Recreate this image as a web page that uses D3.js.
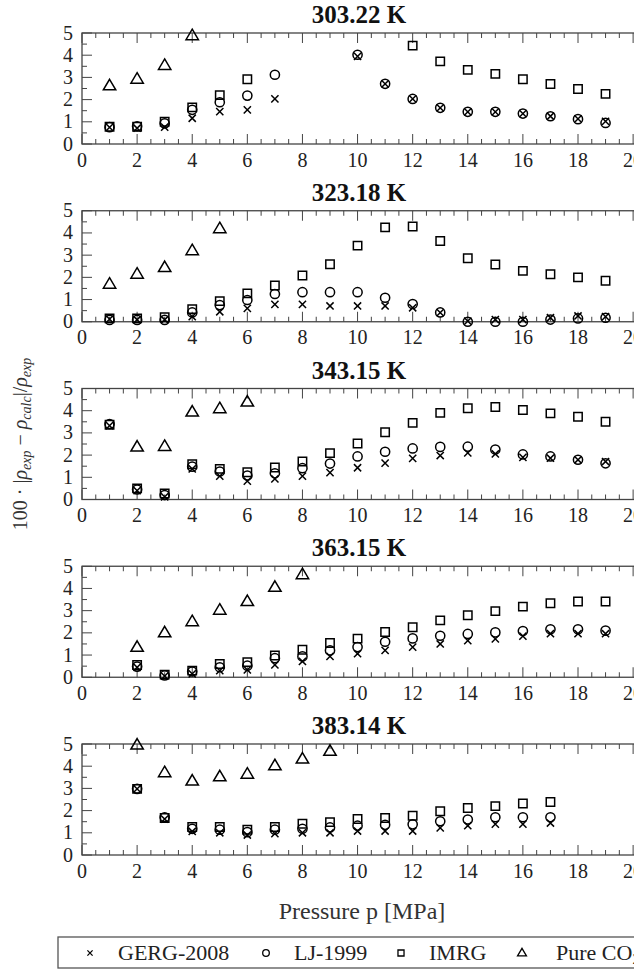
<!DOCTYPE html>
<html><head><meta charset="utf-8">
<script src="https://cdn.jsdelivr.net/npm/d3@7"></script>
<style>body{margin:0;background:#fff}svg{display:block}
text{font-family:"Liberation Serif","Times New Roman",Times,"Nimbus Roman","DejaVu Serif",serif;}</style>
</head><body>
<svg id="c" width="634" height="970"></svg>
<script>
// ---- data ----
const pressure = [1,2,3,4,5,6,7,8,9,10,11,12,13,14,15,16,17,18,19];
const temperatures = ["303.22 K","323.18 K","343.15 K","363.15 K","383.14 K"];
const seriesNames = ["GERG-2008","LJ-1999","IMRG","Pure CO₂"];
const xTicks = [0,2,4,6,8,10,12,14,16,18,20];
const yTicks = [0,1,2,3,4,5];
const _ = null;

const gerg303 = [0.75,0.71,0.76,1.16,1.46,1.54,2.03,_,_,3.95,2.71,2.03,1.63,1.45,1.45,1.37,1.25,1.13,1.02];
const lj303   = [0.76,0.80,0.93,1.54,1.88,2.18,3.12,_,_,4.02,2.71,2.03,1.63,1.45,1.45,1.37,1.25,1.12,0.95];
const imrg303 = [0.78,0.78,1.00,1.65,2.20,2.92,_,_,_,_,_,4.43,3.72,3.34,3.16,2.92,2.70,2.48,2.26];
const pure303 = [2.62,2.92,3.54,4.88,_,_,_,_,_,_,_,_,_,_,_,_,_,_,_];

const gerg323 = [0.12,0.09,0.09,0.23,0.45,0.60,0.78,0.78,0.71,0.71,0.71,0.63,0.41,0.03,0.10,0.10,0.18,0.26,0.23];
const lj323   = [0.08,0.08,0.08,0.42,0.75,0.98,1.25,1.33,1.33,1.33,1.08,0.80,0.42,0.00,0.00,0.00,0.10,0.15,0.18];
const imrg323 = [0.15,0.15,0.20,0.57,0.93,1.28,1.63,2.08,2.59,3.43,4.25,4.29,3.64,2.86,2.58,2.29,2.14,2.00,1.85];
const pure323 = [1.69,2.14,2.44,3.20,4.19,_,_,_,_,_,_,_,_,_,_,_,_,_,_];

const gerg343 = [3.33,0.40,0.12,1.38,1.05,0.83,0.93,1.05,1.21,1.43,1.64,1.85,1.98,2.10,2.05,1.90,1.86,1.79,1.71];
const lj343   = [3.40,0.45,0.20,1.48,1.26,1.08,1.18,1.41,1.62,1.94,2.15,2.30,2.37,2.38,2.25,2.03,1.94,1.79,1.63];
const imrg343 = [3.37,0.50,0.27,1.59,1.38,1.23,1.44,1.71,2.09,2.52,3.03,3.45,3.90,4.11,4.17,4.03,3.88,3.73,3.50];
const pure343 = [_,2.36,2.39,3.94,4.09,4.39,_,_,_,_,_,_,_,_,_,_,_,_,_];

const gerg363 = [_,0.45,0.05,0.15,0.30,0.33,0.56,0.71,0.94,1.06,1.21,1.36,1.50,1.65,1.73,1.85,1.96,1.96,1.96];
const lj363   = [_,0.48,0.08,0.26,0.45,0.52,0.86,0.94,1.21,1.36,1.60,1.75,1.87,1.95,2.02,2.08,2.16,2.16,2.10];
const imrg363 = [_,0.55,0.12,0.30,0.60,0.68,0.98,1.24,1.54,1.74,2.04,2.25,2.56,2.79,2.98,3.18,3.33,3.41,3.41];
const pure363 = [_,1.35,2.00,2.50,3.02,3.41,4.05,4.62,_,_,_,_,_,_,_,_,_,_,_];

const gerg383 = [_,2.98,1.62,1.06,1.00,0.90,0.96,1.00,1.00,1.08,1.08,1.08,1.22,1.32,1.39,1.39,1.44,_,_];
const lj383   = [_,2.98,1.70,1.18,1.14,1.03,1.14,1.18,1.24,1.32,1.36,1.38,1.52,1.60,1.70,1.70,1.70,_,_];
const imrg383 = [_,2.98,1.67,1.26,1.26,1.14,1.26,1.41,1.48,1.62,1.67,1.77,1.97,2.12,2.20,2.32,2.39,_,_];
const pure383 = [_,4.95,3.71,3.33,3.52,3.64,4.02,4.32,4.67,_,_,_,_,_,_,_,_,_,_];

const panels = [
  [gerg303, lj303, imrg303, pure303],
  [gerg323, lj323, imrg323, pure323],
  [gerg343, lj343, imrg343, pure343],
  [gerg363, lj363, imrg363, pure363],
  [gerg383, lj383, imrg383, pure383]
];

// ---- layout ----
const svg = d3.select("#c");
const left = 82, right = 640;
const x = d3.scaleLinear().domain([0, 20.25]).range([left, right]);
const axisColor = "#444";

function symbolPath(kind, s) {
  if (kind === 0) { const a = 3.6*s; return `M${-a},${-a}L${a},${a}M${-a},${a}L${a},${-a}`; }
  if (kind === 1) { const r = 4.6*s; return `M${r},0A${r},${r} 0 1,1 ${-r},0A${r},${r} 0 1,1 ${r},0Z`; }
  if (kind === 2) { const a = 4.2*s; return `M${-a},${-a}H${a}V${a}H${-a}Z`; }
  const w = 6.2*s, h = 10.5*s; return `M0,${-h*0.62}L${w},${h*0.38}L${-w},${h*0.38}Z`;
}

panels.forEach((series, i) => {
  const bottom = 144 + i*177.75, top = bottom - 111;
  const y = d3.scaleLinear().domain([0,5]).range([bottom, top]);
  const g = svg.append("g");

  g.append("text").attr("x", 359).attr("y", top - 10).attr("text-anchor","middle")
    .attr("font-weight","bold").attr("font-size", 25)
    .attr("fill","#111").text(temperatures[i]);

  g.append("rect").attr("x", left).attr("y", top).attr("width", right-left).attr("height", bottom-top)
    .attr("fill","none").attr("stroke", axisColor).attr("stroke-width", 1.3);

  const xMinor = d3.range(0, 20.01, 0.5);
  xMinor.forEach(v => {
    const major = Math.abs(v/2 - Math.round(v/2)) < 1e-6;
    const len = major ? 10 : 5;
    g.append("line").attr("x1", x(v)).attr("x2", x(v)).attr("y1", bottom).attr("y2", bottom-len)
      .attr("stroke", axisColor).attr("stroke-width", 1);
    g.append("line").attr("x1", x(v)).attr("x2", x(v)).attr("y1", top).attr("y2", top+len)
      .attr("stroke", axisColor).attr("stroke-width", 1);
  });
  d3.range(0, 5.01, 0.5).forEach(v => {
    const major = Math.abs(v - Math.round(v)) < 1e-6;
    const len = major ? 10 : 5;
    g.append("line").attr("x1", left).attr("x2", left+len).attr("y1", y(v)).attr("y2", y(v))
      .attr("stroke", axisColor).attr("stroke-width", 1);
  });

  g.selectAll(".xl").data(xTicks).enter().append("text")
    .attr("x", d => x(d)).attr("y", bottom + 22.5).attr("text-anchor","middle")
    .attr("font-size", 20).attr("fill","#222").text(d => d);
  g.selectAll(".yl").data(yTicks).enter().append("text")
    .attr("x", 73).attr("y", d => y(d) + 6.5).attr("text-anchor","end")
    .attr("font-size", 20).attr("fill","#222").text(d => d);

  series.forEach((vals, k) => {
    const pts = pressure.map((p, j) => ({p, v: vals[j]})).filter(d => d.v !== null);
    g.selectAll(".m"+k).data(pts).enter().append("path")
      .attr("transform", d => `translate(${x(d.p)},${y(d.v)})`)
      .attr("d", symbolPath(k, 1))
      .attr("fill","none").attr("stroke","#000").attr("stroke-width", 1.5);
  });
});

svg.append("text").attr("x", 362).attr("y", 919).attr("text-anchor","middle")
  .attr("font-size", 24).attr("fill","#333").text("Pressure p [MPa]");

const yl = svg.append("text").attr("transform","translate(27,444) rotate(-90)")
  .attr("text-anchor","middle").attr("font-size", 20).attr("fill","#333");
yl.append("tspan").text("100 · |");
yl.append("tspan").attr("font-style","italic").text("ρ");
yl.append("tspan").attr("font-style","italic").attr("font-size",14).attr("dy",4).text("exp");
yl.append("tspan").attr("dy",-4).text(" − ");
yl.append("tspan").attr("font-style","italic").text("ρ");
yl.append("tspan").attr("font-style","italic").attr("font-size",14).attr("dy",4).text("calc");
yl.append("tspan").attr("dy",-4).text("|/");
yl.append("tspan").attr("font-style","italic").text("ρ");
yl.append("tspan").attr("font-style","italic").attr("font-size",14).attr("dy",4).text("exp");

const lg = svg.append("g");
lg.append("rect").attr("x", 58).attr("y", 937).attr("width", 600).attr("height", 31)
  .attr("fill","#fff").attr("stroke","#555").attr("stroke-width",1.3);
const legendSymX = [90, 266, 401, 522];
const legendTextX = [118, 294, 429, 556];
seriesNames.forEach((name, k) => {
  lg.append("path").attr("transform", `translate(${legendSymX[k]},953)`)
    .attr("d", symbolPath(k, 0.72)).attr("fill","none").attr("stroke","#000").attr("stroke-width",1.3);
  const t = lg.append("text").attr("x", legendTextX[k]).attr("y", 960)
    .attr("font-size", 22).attr("fill","#222");
  if (k === 3) {
    t.append("tspan").text("Pure CO");
    t.append("tspan").attr("font-size",15).attr("dy",4).text("2");
  } else t.text(name);
});
</script>
</body></html>
